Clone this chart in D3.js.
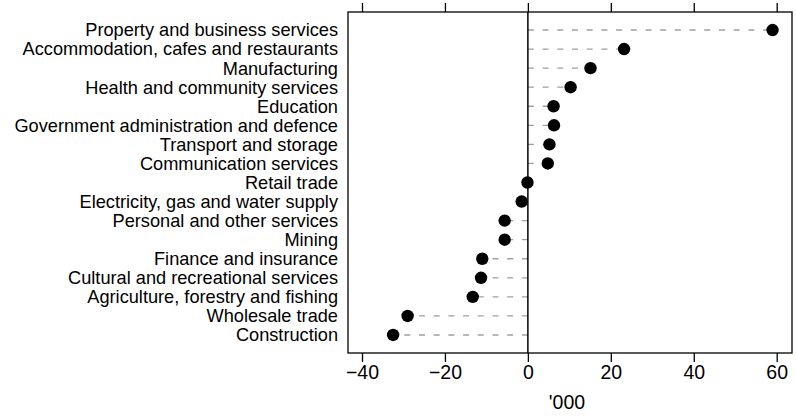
<!DOCTYPE html>
<html><head><meta charset="utf-8">
<script src="https://cdn.jsdelivr.net/npm/d3@7"></script>
<style>body{margin:0;background:#fff}</style>
</head><body>
<svg id="c" width="796" height="417"></svg>
<script>
const categories = ["Property and business services","Accommodation, cafes and restaurants","Manufacturing","Health and community services","Education","Government administration and defence","Transport and storage","Communication services","Retail trade","Electricity, gas and water supply","Personal and other services","Mining","Finance and insurance","Cultural and recreational services","Agriculture, forestry and fishing","Wholesale trade","Construction"];
const values = [59.0, 23.2, 15.1, 10.3, 6.2, 6.3, 5.2, 4.8, -0.1, -1.5, -5.6, -5.6, -11.0, -11.3, -13.3, -29.0, -32.5];
const xTicks = [-40, -20, 0, 20, 40, 60];
const xLabel = "'000";

const svg = d3.select("#c");
const L = 348, R = 792, T = 12, B = 353;
const font = "Liberation Sans, Arial, sans-serif";
const x = d3.scaleLinear().domain([-40, 60]).range([362, 776.7]);
const y = d3.scalePoint().domain(categories).range([T, B]).padding(0.945);

const g = svg.append("g");
g.selectAll("line.d").data(categories).join("line")
  .attr("x1", x(0)).attr("x2", (d,i)=>x(values[i]))
  .attr("y1", d=>y(d)).attr("y2", d=>y(d))
  .attr("stroke", "#a0a0a0").attr("stroke-width", 1.3).attr("stroke-dasharray", "6,8.7");
g.append("line").attr("x1", x(0)).attr("x2", x(0)).attr("y1", T).attr("y2", B)
  .attr("stroke", "#000").attr("stroke-width", 1.5);
g.selectAll("circle").data(categories).join("circle")
  .attr("cx", (d,i)=>x(values[i])).attr("cy", d=>y(d)).attr("r", 6.2).attr("fill", "#000");
svg.append("rect").attr("x", L).attr("y", T).attr("width", R-L).attr("height", B-T)
  .attr("fill", "none").attr("stroke", "#000").attr("stroke-width", 1.3);
const axB = svg.append("g").attr("transform", `translate(0,${B})`)
  .call(d3.axisBottom(x).tickValues(xTicks).tickSize(9).tickPadding(3).tickFormat(d => d < 0 ? "\u2212" + Math.abs(d) : d));
axB.select(".domain").remove();
axB.selectAll("line").attr("stroke", "#000").attr("stroke-width", 1.3);
axB.selectAll("text").attr("font-family", font).attr("font-size", 19.5).attr("fill", "#000");
const axT = svg.append("g").attr("transform", `translate(0,${T})`)
  .call(d3.axisTop(x).tickValues(xTicks).tickSize(9).tickFormat(""));
axT.select(".domain").remove();
axT.selectAll("line").attr("stroke", "#000").attr("stroke-width", 1.3);
svg.selectAll("text.cat").data(categories).join("text").attr("class","cat")
  .attr("x", 338).attr("y", d=>y(d)).attr("dy", "0.35em").attr("text-anchor", "end")
  .attr("font-family", font).attr("font-size", 18.2).attr("fill", "#000").text(d=>d);
svg.append("text").attr("x", 567).attr("y", 402).attr("dy", "0.35em").attr("text-anchor","middle")
  .attr("font-family", font).attr("font-size", 19.5).text(xLabel);
</script>
</body></html>
